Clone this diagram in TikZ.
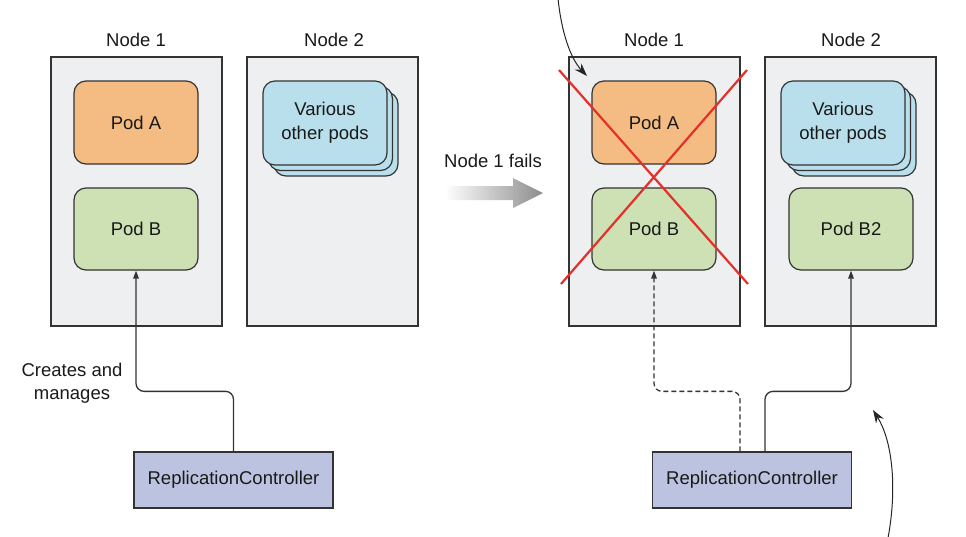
\documentclass[tikz,border=0pt]{standalone}
\usepackage{fontspec}
\setmainfont{Liberation Sans}
\usetikzlibrary{arrows.meta}
\definecolor{nodebg}{HTML}{EEEFF1}
\definecolor{linec}{HTML}{333333}
\definecolor{podA}{HTML}{F4BC82}
\definecolor{podB}{HTML}{CDE1B5}
\definecolor{podV}{HTML}{B9DFEC}
\definecolor{rcc}{HTML}{BCC3E0}
\definecolor{xred}{HTML}{E3302B}
\begin{document}
\begin{tikzpicture}[x=1pt,y=-1pt,
  every node/.style={font=\fontsize{18.5}{22}\selectfont, text=black!90},
  kbox/.style={draw=linec, line width=1.3pt, fill=nodebg, minimum width=171pt, minimum height=269pt, inner sep=0pt},
  pod/.style={draw=linec, line width=1.2pt, rounded corners=12pt, minimum width=124pt, minimum height=83pt, inner sep=0pt, align=center},
  rcbox/.style={draw=linec, line width=1.3pt, fill=rcc, minimum width=199pt, minimum height=56pt, inner sep=0pt},
  conn/.style={draw=linec, line width=1.3pt, rounded corners=8pt, -{Triangle[length=8pt,width=5.5pt]}},
  curvearr/.style={draw=black!85, line width=1pt, -{Stealth[length=13pt,width=9pt]}},
  xline/.style={draw=xred, line width=2.2pt}
]
\useasboundingbox (0,0) rectangle (966,536);
% ---------- left state ----------
\node[kbox] (n1L) at (136.5,191.5) {};
\node[kbox] (n2L) at (332.5,191.5) {};
\node (n1Llab) at (136,40) {Node 1};
\node (n2Llab) at (334,40) {Node 2};
\node[pod, fill=podA] (podAL) at (136,122.5) {Pod A};
\node[pod, fill=podB, minimum height=82pt] (podBL) at (136,229) {Pod B};
\node[pod, fill=podV, minimum height=84pt] (v3L) at (336,134) {};
\node[pod, fill=podV, minimum height=84pt] (v2L) at (330.5,128.5) {};
\node[pod, fill=podV, minimum height=84pt] (vL) at (325,123) {Various\\[2pt]other pods};
\node[rcbox] (rcL) at (233.5,480) {ReplicationController};
\node[align=center] (cm) at (72,383) {Creates and\\[1pt]manages};
\draw[conn] (rcL.north) -- ++(0,-60) -| (podBL.south);
% ---------- transition arrow ----------
\node (fails) at (493,161) {Node 1 fails};
\path[left color=white, right color=black!45]
  (445,186) -- (513,186) -- (513,178) -- (543,193) -- (513,208) -- (513,200) -- (445,200) -- cycle;
\coordinate (failsarrow) at (493,193);
% ---------- right state ----------
\node[kbox] (n1R) at (654.5,191.5) {};
\node[kbox] (n2R) at (850.5,191.5) {};
\node (n1Rlab) at (654,40) {Node 1};
\node (n2Rlab) at (851,40) {Node 2};
\node[pod, fill=podA] (podAR) at (654,122.5) {Pod A};
\node[pod, fill=podB, minimum height=82pt] (podBR) at (654,229) {Pod B};
\node[pod, fill=podV, minimum height=84pt] (v3R) at (854,134) {};
\node[pod, fill=podV, minimum height=84pt] (v2R) at (848.5,128.5) {};
\node[pod, fill=podV, minimum height=84pt] (vR) at (843,123) {Various\\[2pt]other pods};
\node[pod, fill=podB, minimum height=82pt] (podB2) at (851,229) {Pod B2};
\node[rcbox] (rcR) at (752,480) {ReplicationController};
\draw[conn, dashed, dash pattern=on 5pt off 3pt] ([xshift=-12pt]rcR.north) -- ++(0,-60) -| (podBR.south);
\draw[conn] ([xshift=13pt]rcR.north) -- ++(0,-60) -| (podB2.south);
% red cross
\coordinate (x1a) at (559,70);
\coordinate (x1b) at (748,284);
\coordinate (x2a) at (747,70);
\coordinate (x2b) at (561,284);
\draw[xline] (x1a) -- (x1b);
\draw[xline] (x2a) -- (x2b);
% curved annotation arrows
\coordinate (ca1) at (558,-2);
\coordinate (cb1) at (587,76);
\draw[curvearr] (ca1) .. controls (561,30) and (570,58) .. (cb1);
\coordinate (ca2) at (888,538);
\coordinate (cb2) at (873,410);
\draw[curvearr] (ca2) .. controls (897,490) and (893,442) .. (cb2);
\end{tikzpicture}
\end{document}
